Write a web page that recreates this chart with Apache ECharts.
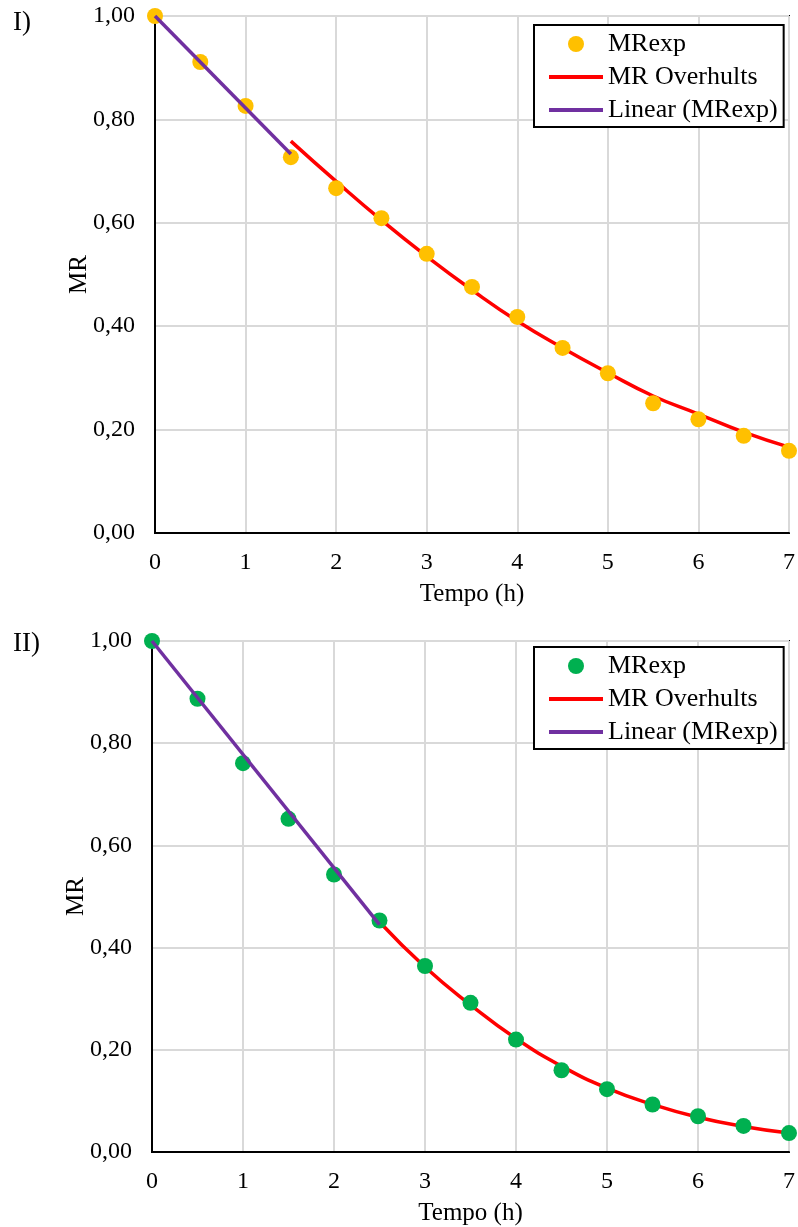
<!DOCTYPE html>
<html>
<head>
<meta charset="utf-8">
<script src="https://cdn.jsdelivr.net/npm/echarts@6/dist/echarts.min.js"></script>
<style>
html,body{margin:0;padding:0;background:#fff;}
#c{width:798px;height:1227px;}
</style>
</head>
<body>
<div id="c"></div>
<script>
// ---- data ----
const tempo = [0, 0.5, 1, 1.5, 2, 2.5, 3, 3.5, 4, 4.5, 5, 5.5, 6, 6.5, 7];
const mrExpI = [1.00, 0.911, 0.826, 0.727, 0.667, 0.609, 0.540, 0.476, 0.418, 0.358, 0.309, 0.251, 0.220, 0.188, 0.159];
const overTI = [1.5, 2, 2.5, 3, 3.5, 4, 4.5, 5, 5.5, 6, 6.5, 7];
const overI = [0.758, 0.680, 0.605, 0.535, 0.470, 0.410, 0.358, 0.310, 0.265, 0.230, 0.195, 0.166];
const linTI = [0, 1.5];
const linI = [1.00, 0.733];

const mrExpII = [1.00, 0.887, 0.761, 0.652, 0.543, 0.453, 0.364, 0.292, 0.220, 0.160, 0.123, 0.093, 0.070, 0.051, 0.037];
const overTII = [2.5, 3, 3.5, 4, 4.5, 5, 5.5, 6, 6.5, 7];
const overII = [0.450, 0.362, 0.288, 0.222, 0.168, 0.125, 0.093, 0.068, 0.050, 0.037];
const linTII = [0, 2.5];
const linII = [1.00, 0.445];

const xTicks = ['0','1','2','3','4','5','6','7'];
const names = ['MRexp', 'MR Overhults', 'Linear (MRexp)'];

const pairs = (xs, ys) => xs.map((x, i) => [x, ys[i]]);
const FONT = '"Liberation Serif", "Times New Roman", serif';
const YELLOW = '#ffc000', GREEN = '#00b050', RED = '#ff0000', PURPLE = '#7030a0';

function xAx(gi) {
  return {
    type: 'value', gridIndex: gi, min: 0, max: 7, interval: 1,
    name: 'Tempo (h)', nameLocation: 'middle', nameGap: 49, nameMoveOverlap: false,
    nameTextStyle: { fontFamily: FONT, fontSize: 25, color: '#000' },
    axisLine: { show: true, lineStyle: { color: '#000', width: 2 } },
    axisTick: { show: false },
    axisLabel: { fontFamily: FONT, fontSize: 24, color: '#000', margin: 18,
      formatter: v => xTicks[Math.round(v)] },
    splitLine: { show: true, lineStyle: { color: '#d9d9d9', width: 2 } }
  };
}
function yAx(gi) {
  return {
    type: 'value', gridIndex: gi, min: 0, max: 1, interval: 0.2,
    name: 'MR', nameLocation: 'middle', nameGap: 63, nameMoveOverlap: false,
    nameTextStyle: { fontFamily: FONT, fontSize: 25, color: '#000' },
    axisLine: { show: true, lineStyle: { color: '#000', width: 2 } },
    axisTick: { show: false },
    axisLabel: { fontFamily: FONT, fontSize: 24, color: '#000', margin: 20,
      formatter: v => v.toFixed(2).replace('.', ',') },
    splitLine: { show: true, lineStyle: { color: '#d9d9d9', width: 2 } }
  };
}
function legend(top, dotColor) {
  const hidden = { color: 'rgba(0,0,0,0)', borderWidth: 0, opacity: 0 };
  const ts = { fontFamily: FONT, fontSize: 26, color: '#000', lineHeight: 26 };
  return {
    orient: 'vertical', left: 534, top: top,
    data: [
      { name: names[0], itemStyle: { color: dotColor }, textStyle: ts },
      { name: names[1], itemStyle: hidden, lineStyle: { color: RED, width: 4 }, textStyle: ts },
      { name: names[2], itemStyle: hidden, lineStyle: { color: PURPLE, width: 4 }, textStyle: ts }
    ],
    itemWidth: 54, itemHeight: 16, itemGap: 7,
    padding: [6, 6, 4, 13],
    borderColor: '#000', borderWidth: 2, backgroundColor: '#fff',
    textStyle: ts,
    selectedMode: false
  };
}

const chart = echarts.init(document.getElementById('c'), null, { renderer: 'canvas' });
chart.setOption({
  animation: false,
  backgroundColor: '#fff',
  textStyle: { fontFamily: FONT },
  graphic: [
    { type: 'text', left: 13, top: 9, style: { text: 'I)', font: '27px "Liberation Serif"', fill: '#000' } },
    { type: 'text', left: 13, top: 630, style: { text: 'II)', font: '27px "Liberation Serif"', fill: '#000' } }
  ],
  grid: [
    { left: 155, top: 16, width: 635, height: 517, show: true, borderColor: '#000', borderWidth: 2, backgroundColor: 'transparent' },
    { left: 152, top: 641, width: 638, height: 514, show: true, borderColor: '#000', borderWidth: 2, backgroundColor: 'transparent' }
  ],
  xAxis: [xAx(0), xAx(1)],
  yAxis: [yAx(0), yAx(1)],
  legend: [legend(25, YELLOW), legend(647, GREEN)],
  series: [
    { name: 'MR Overhults', type: 'line', xAxisIndex: 0, yAxisIndex: 0, data: pairs(overTI, overI),
      smooth: true, symbol: 'none', lineStyle: { color: RED, width: 3.5 }, itemStyle: { color: RED }, z: 2 },
    { name: 'MRexp', type: 'scatter', xAxisIndex: 0, yAxisIndex: 0, data: pairs(tempo, mrExpI),
      symbolSize: 16, itemStyle: { color: YELLOW, opacity: 1 }, z: 3 },
    { name: 'Linear (MRexp)', type: 'line', xAxisIndex: 0, yAxisIndex: 0, data: pairs(linTI, linI),
      symbol: 'none', lineStyle: { color: PURPLE, width: 3.5 }, itemStyle: { color: PURPLE }, z: 4 },

    { name: 'MR Overhults', type: 'line', xAxisIndex: 1, yAxisIndex: 1, data: pairs(overTII, overII),
      smooth: true, symbol: 'none', lineStyle: { color: RED, width: 3.5 }, itemStyle: { color: RED }, z: 2 },
    { name: 'MRexp', type: 'scatter', xAxisIndex: 1, yAxisIndex: 1, data: pairs(tempo, mrExpII),
      symbolSize: 16, itemStyle: { color: GREEN, opacity: 1 }, z: 3 },
    { name: 'Linear (MRexp)', type: 'line', xAxisIndex: 1, yAxisIndex: 1, data: pairs(linTII, linII),
      symbol: 'none', lineStyle: { color: PURPLE, width: 3.5 }, itemStyle: { color: PURPLE }, z: 4 }
  ]
});
</script>
</body>
</html>
